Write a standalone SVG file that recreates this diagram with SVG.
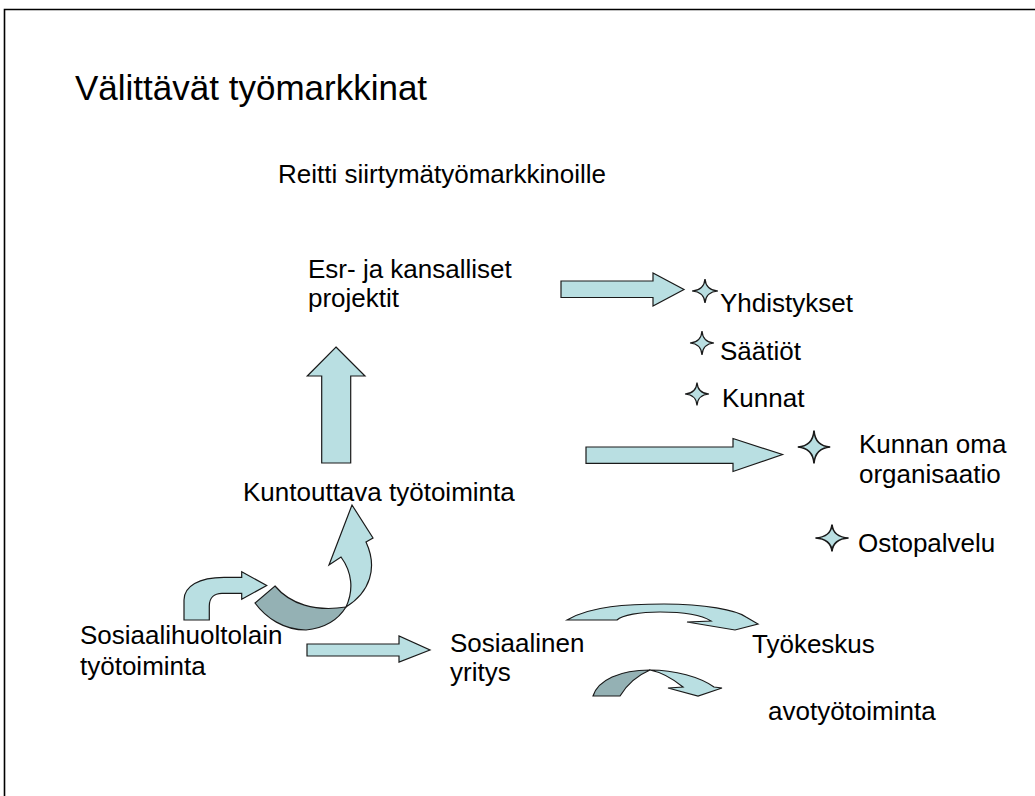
<svg xmlns="http://www.w3.org/2000/svg" width="1035" height="796" viewBox="0 0 1035 796">
<style>
text{font-family:"Liberation Sans",Arial,sans-serif;font-size:26px;fill:#000}
.title{font-size:35px}
.lt{fill:#B9DFE2;stroke:#1a1a1a;stroke-width:1.2;stroke-linejoin:miter}
.dk{fill:#94B1B4;stroke:#1a1a1a;stroke-width:1.2}
.frame{fill:none;stroke:#000;stroke-width:1.6}
</style>
<defs>
<path id="star" d="M0,-12 Q0.8,-0.8 12,0 Q0.8,0.8 0,12 Q-0.8,0.8 -12,0 Q-0.8,-0.8 0,-12 Z"/>
</defs>
<rect width="1035" height="796" fill="#fff"/>
<path class="frame" d="M4.5,796 V9.5 H1035"/>
<text class="title" x="75" y="100">Välittävät työmarkkinat</text>
<text x="278" y="183">Reitti siirtymätyömarkkinoille</text>

<g id="connectors">
<path class="lt" d="M561,281 H653 V273 L684,289.5 L653,306 V297.5 H561 Z"/>
<path class="lt" d="M336,347 L365,376 H350.7 V463 H321.7 V376 H307.3 Z"/>
<path class="lt" d="M586,447 H733 V438.5 L782.5,454.5 L733,471.5 V463.3 H586 Z"/>
<path class="lt" d="M307,644 H399 V636 L430,650 L399,662 V656 H307 Z"/>
<path class="lt" d="M184,620 V600 C184,586 199,577.3 224,577.3 H241.7 V571.7 L266.7,585.5 L241.7,599.3 V593.3 H222 C214,593.3 209.3,598 209.3,606 V620 Z"/>
<path class="dk" d="M275,586 C290,604 315,612 346,607 C338,620 326,628 306,630 C284,630 266,618 255,603 Z"/>
<path class="lt" d="M346,607 C354,590 352,572 341,557 L329,565 L352,505 L373,538 L366,542 C378,568 370,592 346,607 Z"/>
<path class="lt" d="M567,620 C590,606 628,604 664,604 C705,604 736,610 746,617 L758,624 L735,630 L687,622 L711,621 C700,614 680,612 660,612 C640,612 622,615 617,620 Z"/>
<path class="dk" d="M593,696 C598,680 620,670 650,670 C636,676 626,686 620,696 Z"/>
<path class="lt" d="M650,670 C675,670 700,677 714,687 L722,688 L698,696 L668,688 L683,687 C672,678 660,672 650,670 Z"/>
</g>

<g id="esr"><text x="308" y="278">Esr- ja kansalliset</text><text x="308" y="307">projektit</text></g>
<g id="yhdistykset"><use href="#star" class="lt" transform="translate(705,291) scale(1.08,1)"/><text x="720" y="312">Yhdistykset</text></g>
<g id="saatiot"><use href="#star" class="lt" transform="translate(702,343) scale(1.0,1)"/><text x="720" y="360">Säätiöt</text></g>
<g id="kunnat"><use href="#star" class="lt" transform="translate(697,394) scale(1.0,0.95)"/><text x="722" y="407">Kunnat</text></g>
<g id="kunnanoma"><use href="#star" class="lt" transform="translate(814,447) scale(1.35,1.38)"/><text x="859" y="453">Kunnan oma</text><text x="859" y="483">organisaatio</text></g>
<g id="ostopalvelu"><use href="#star" class="lt" transform="translate(832,538) scale(1.38,1.12)"/><text x="858" y="552">Ostopalvelu</text></g>
<g id="kuntouttava"><text x="243" y="501">Kuntouttava työtoiminta</text></g>
<g id="sosiaalihuolto"><text x="80" y="644">Sosiaalihuoltolain</text><text x="80" y="675">työtoiminta</text></g>
<g id="sosiaalinen"><text x="450" y="652">Sosiaalinen</text><text x="450" y="681">yritys</text></g>
<g id="tyokeskus"><text x="752" y="653">Työkeskus</text></g>
<g id="avotyo"><text x="768" y="720">avotyötoiminta</text></g>
</svg>
